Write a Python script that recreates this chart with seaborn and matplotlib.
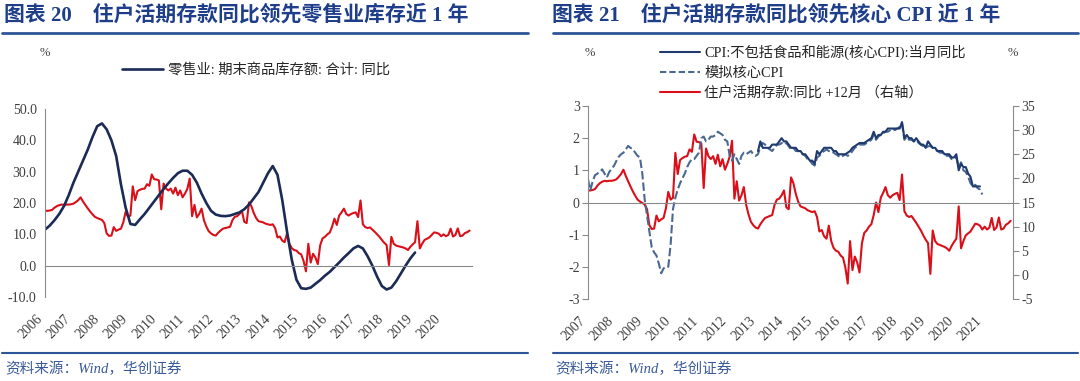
import numpy as np
import pandas as pd
import seaborn as sns
import matplotlib.pyplot as plt
from matplotlib.lines import Line2D

sns.set_style("white")
plt.rcParams['font.family'] = ['Liberation Serif', 'Noto Sans CJK SC']
plt.rcParams['axes.unicode_minus'] = False

# ---- data ----
# retail inventory yoy (%), every 2 months from 2006-01 to 2019-01
retail_inv = [11.5, 12.8, 14.5, 16.5, 19.0, 22.5,
              26.5, 30.0, 33.5, 37.0, 41.0, 44.5,
              45.4, 43.5, 40.0, 35.0, 26.0, 18.5,
              13.3, 13.0, 14.8, 16.5, 18.5, 20.5,
              22.5, 24.5, 26.3, 28.0, 29.5, 30.3,
              30.3, 29.0, 26.5, 23.0, 20.0, 17.5,
              16.3, 15.9, 15.8, 16.0, 16.5, 17.0,
              18.0, 19.5, 21.5, 23.5, 26.5, 29.5,
              31.8, 29.0, 21.0, 11.0, 2.0, -4.5,
              -7.2, -7.4, -7.0, -5.8, -4.6, -3.2,
              -2.0, -0.5, 1.0, 2.6, 4.0, 5.5,
              6.3, 5.5, 3.0, 0.0, -3.5, -6.5,
              -7.6, -7.0, -5.0, -2.5, 0.0, 2.3,
              4.2]

# household demand deposits yoy (%), monthly, shifted +12 months
deposit_yoy = [17.5, 17.5, 17.6, 17.8, 18.5, 19.0, 19.3, 19.5, 19.4, 19.5, 19.5, 19.6,
               19.8, 20.3, 20.9, 21.8, 20.5, 19.4, 18.3, 17.3, 16.4, 15.6, 15.2, 14.9,
               14.6, 13.6, 10.3, 9.5, 9.6, 12.3, 11.1, 11.5, 11.8, 13.8, 17.2, 15.6,
               16.0, 25.3, 20.9, 23.8, 24.2, 24.5, 24.6, 26.0, 25.5, 29.1, 27.6, 27.5,
               27.2, 18.0, 26.2, 24.6, 24.0, 24.6, 23.0, 24.9, 22.5, 24.0, 21.8, 23.0,
               24.5, 27.8, 15.8, 19.4, 15.4, 16.5, 18.2, 14.5, 12.5, 11.0, 10.3, 9.8,
               9.6, 10.5, 11.2, 11.8, 12.0, 12.2, 12.4, 14.5, 15.6, 15.8, 16.5, 17.5,
               14.0, 13.6, 20.2, 19.0, 16.8, 15.2, 14.2, 14.0, 13.8, 13.4, 13.2, 13.0,
               13.2, 12.0, 9.0, 9.3, 8.0, 7.5, 10.2, 7.0, 5.6, 5.0, 4.8, 4.0,
               3.6, 1.5, -1.8, 7.0, 1.0, 3.8, 2.6, 0.5, 6.5, 8.7, 9.2, 10.0,
               10.5, 12.4, 15.0, 13.0, 16.0, 17.0, 18.2, 16.5, 16.0, 16.5, 16.8, 17.0,
               15.5, 20.8, 13.2, 12.3, 12.0, 12.2, 11.5, 10.8, 10.0, 9.2, 8.2, 7.3,
               6.6, 0.2, 9.2, 7.0, 6.4, 6.2, 6.0, 5.8, 5.5, 5.0, 6.0, 6.8,
               7.5, 14.2, 5.5, 7.0, 8.2, 8.6, 9.0, 9.8, 10.6, 10.5, 10.2, 9.4,
               10.0, 9.4, 9.8, 11.8, 9.3, 9.8, 11.9, 9.4, 9.6, 10.4, 10.7, 11.2]

# core CPI yoy (%), monthly from 2013-01
core_cpi = [1.6, 1.9, 1.7, 1.7, 1.7, 1.7, 1.8, 1.8, 1.8, 1.9, 2.0, 1.9,
            1.9, 1.8, 1.7, 1.7, 1.7, 1.6, 1.6, 1.5, 1.5, 1.4, 1.3, 1.3,
            1.2, 1.6, 1.5, 1.6, 1.7, 1.7, 1.7, 1.7, 1.6, 1.6, 1.5, 1.5,
            1.5, 1.5, 1.55, 1.6, 1.7, 1.75, 1.8, 1.85, 1.85, 1.85, 1.9, 1.95,
            2.0, 2.2, 2.0, 2.1, 2.1, 2.2, 2.2, 2.3, 2.3, 2.3, 2.3, 2.3,
            2.3, 2.5, 2.0, 2.1, 2.0, 2.0, 1.9, 2.0, 1.9, 1.8, 1.8, 1.7,
            1.9, 1.8, 1.7, 1.7, 1.6, 1.6, 1.6, 1.5, 1.5, 1.5, 1.4, 1.4,
            1.5, 1.0, 1.2, 1.1, 1.1, 0.9, 0.8, 0.5, 0.5, 0.5, 0.5]

# simulated core CPI (%), monthly from 2007-01
sim_core_cpi = [0.72, 0.38, 0.67, 0.85, 0.9, 0.95, 1.03, 0.9, 0.78, 0.95, 1.05, 1.14,
                1.29, 1.42, 1.5, 1.55, 1.65, 1.76, 1.7, 1.65, 1.55, 1.45, 1.4, 0.9,
                0.1, -0.4, -0.9, -1.4, -1.55, -1.65, -1.9, -2.2, -2.05, -2.0, -2.0, -1.3,
                -0.2, 0.15, 0.4, 0.6, 0.75, 0.9, 1.1, 1.25, 1.35, 1.35, 1.45, 1.55,
                2.0, 2.05, 1.9, 1.95, 2.05, 2.05, 2.1, 2.2, 2.15, 2.1, 1.95, 1.9,
                1.45, 1.3, 1.5, 1.35, 1.2, 1.45, 1.55, 1.5, 1.55, 1.6, 1.5, 1.45,
                1.5, 1.75, 1.85, 1.8, 1.7, 1.65, 1.6, 1.7, 1.8, 1.8, 1.85, 1.8,
                1.85, 1.75, 1.65, 1.7, 1.6, 1.6, 1.55, 1.5, 1.45, 1.35, 1.3, 1.2,
                1.15, 1.4, 1.45, 1.55, 1.6, 1.65, 1.6, 1.6, 1.55, 1.5, 1.45, 1.4,
                1.45, 1.5, 1.45, 1.5, 1.6, 1.7, 1.75, 1.8, 1.8, 1.8, 1.85, 1.9,
                1.95, 2.1, 1.95, 2.05, 2.1, 2.15, 2.2, 2.2, 2.25, 2.3, 2.25, 2.3,
                2.35, 2.45, 1.95, 2.05, 1.95, 1.95, 1.9, 1.95, 1.85, 1.8, 1.75, 1.7,
                1.75, 1.75, 1.7, 1.65, 1.6, 1.55, 1.55, 1.5, 1.45, 1.45, 1.35, 1.35,
                1.4, 1.1, 1.25, 1.0, 0.95, 0.8, 0.6, 0.5, 0.55, 0.45, 0.4, 0.25]

left_years = list(range(2006, 2022))
right_years = list(range(2007, 2023))

left_title = '图表 20    住户活期存款同比领先零售业库存近 1 年'
right_title = '图表 21    住户活期存款同比领先核心 CPI 近 1 年'
left_label = '零售业: 期末商品库存额: 合计: 同比'
right_labels = ['CPI:不包括食品和能源(核心CPI):当月同比', '模拟核心CPI', '住户活期存款:同比 +12月 （右轴）']
source = '资料来源：Wind，华创证券'

# ---- frames ----
retail_df = pd.DataFrame({'x': 2006 + np.arange(len(retail_inv)) * 2 / 12, 'y': retail_inv})
dep_left = pd.DataFrame({'x': 2006 + np.arange(len(deposit_yoy)) / 12, 'y': deposit_yoy})
dep_right = pd.DataFrame({'x': 2007 + np.arange(len(deposit_yoy)) / 12, 'y': deposit_yoy})
core_df = pd.DataFrame({'x': 2013 + np.arange(len(core_cpi)) / 12, 'y': core_cpi})
sim_df = pd.DataFrame({'x': 2007 + np.arange(len(sim_core_cpi)) / 12, 'y': sim_core_cpi})

navy = '#1b2b55'
cpi_col = '#1f3a6e'
sim_col = '#4a6892'
red = '#d9101a'
grey = '#8a8a8a'
tick_col = '#404040'
title_col = '#1f3e8a'
rule_col = '#2e5597'

W, H = 1080, 381
fig = plt.figure(figsize=(W / 100, H / 100), dpi=100)


def px(x0, y_top, w, h):
    return [x0 / W, 1 - (y_top + h) / H, w / W, h / H]


def style_x(ax, years):
    ax.spines['bottom'].set_position(('data', 0))
    ax.spines['bottom'].set_color(grey)
    ax.set_xticks(years)
    ax.set_xlim(years[0], years[-1])
    ax.tick_params(axis='x', direction='out', length=4, color=grey, labelbottom=False)
    sec = ax.secondary_xaxis('bottom')
    sec.set_xticks(years[:-1], [str(y) for y in years[:-1]])
    sec.tick_params(length=0, pad=11, labelsize=10, labelcolor=tick_col)
    for lab in sec.get_xticklabels():
        lab.set_rotation(45)
        lab.set_ha('right')
    sec.spines['bottom'].set_visible(False)


# ---- left panel ----
ax1 = fig.add_axes(px(45, 109, 427, 188))
sns.lineplot(data=dep_left, x='x', y='y', ax=ax1, color=red, lw=1.5)
sns.lineplot(data=retail_df, x='x', y='y', ax=ax1, color=navy, lw=1.9)
ax1.set_ylim(-10, 50)
ax1.set_yticks(range(-10, 51, 10))
ax1.set_yticklabels([f'{v:.1f}' for v in range(-10, 51, 10)])
ax1.tick_params(axis='y', direction='out', length=4, color=grey, labelsize=10, labelcolor=tick_col, pad=2)
for s in ['top', 'right']:
    ax1.spines[s].set_visible(False)
ax1.spines['left'].set_color(grey)
ax1.set_xlabel('')
ax1.set_ylabel('')
style_x(ax1, left_years)

# ---- right panel ----
ax2 = fig.add_axes(px(588, 106, 425, 193))
ax3 = ax2.twinx()
sns.lineplot(data=dep_right, x='x', y='y', ax=ax3, color=red, lw=1.5)
sns.lineplot(data=sim_df, x='x', y='y', ax=ax2, color=sim_col, lw=1.5, linestyle=(0, (4, 1.5)))
sns.lineplot(data=core_df, x='x', y='y', ax=ax2, color=cpi_col, lw=1.5)
ax2.set_zorder(ax3.get_zorder() + 1)
ax2.patch.set_visible(False)
ax2.set_ylim(-3, 3)
ax2.set_yticks(range(-3, 4))
ax3.set_ylim(-5, 35)
ax3.set_yticks(range(-5, 36, 5))
for a in (ax2, ax3):
    a.set_xlabel('')
    a.set_ylabel('')
    a.spines['top'].set_visible(False)
ax2.spines['right'].set_visible(False)
ax3.spines['left'].set_visible(False)
ax3.spines['bottom'].set_visible(False)
ax2.spines['left'].set_color(grey)
ax3.spines['right'].set_color(grey)
ax2.tick_params(axis='y', direction='out', length=4, color=grey, labelsize=10, labelcolor=tick_col, pad=2)
ax3.tick_params(axis='y', direction='out', length=4, color=grey, labelsize=10, labelcolor=tick_col, pad=2)
ax3.tick_params(axis='x', bottom=False, labelbottom=False)
style_x(ax2, right_years)

# ---- legends ----
fig.legend(handles=[Line2D([], [], color=navy, lw=1.9)], labels=[left_label],
           loc='center left', bbox_to_anchor=(122 / W, 1 - 70 / H), frameon=False,
           borderpad=0, borderaxespad=0, handlelength=2.85, handletextpad=0.35, fontsize=10.3)
fig.legend(handles=[Line2D([], [], color=cpi_col, lw=1.5),
                    Line2D([], [], color=sim_col, lw=1.5, linestyle=(0, (3, 1.5))),
                    Line2D([], [], color=red, lw=1.5)],
           labels=right_labels, loc='upper left', bbox_to_anchor=(660 / W, 1 - 45 / H),
           frameon=False, borderpad=0, borderaxespad=0, handlelength=2.8,
           handletextpad=0.3, labelspacing=0.45, fontsize=10.3)

# ---- titles, rules, notes ----
fig.text(4 / W, 1 - 15 / H, left_title, fontsize=15, fontweight='bold', color=title_col, va='center')
fig.text(552 / W, 1 - 15 / H, right_title, fontsize=15, fontweight='bold', color=title_col, va='center')
for x0, x1 in [(2, 528), (553, 1078)]:
    fig.add_artist(Line2D([x0 / W, x1 / W], [1 - 33 / H] * 2, color=rule_col, lw=2))
    fig.add_artist(Line2D([x0 / W, x1 / W], [1 - 353 / H] * 2, color=rule_col, lw=1.5))
fig.text(5 / W, 1 - 369 / H, source, fontsize=10.5, color='#3a5a9a', va='center', style='italic')
fig.text(555 / W, 1 - 369 / H, source, fontsize=10.5, color='#3a5a9a', va='center', style='italic')
for xp in (45, 590, 1013):
    fig.text(xp / W, 1 - 53 / H, '%', fontsize=9, color=tick_col, ha='center', va='center')

fig.savefig('out.png', dpi=100)
